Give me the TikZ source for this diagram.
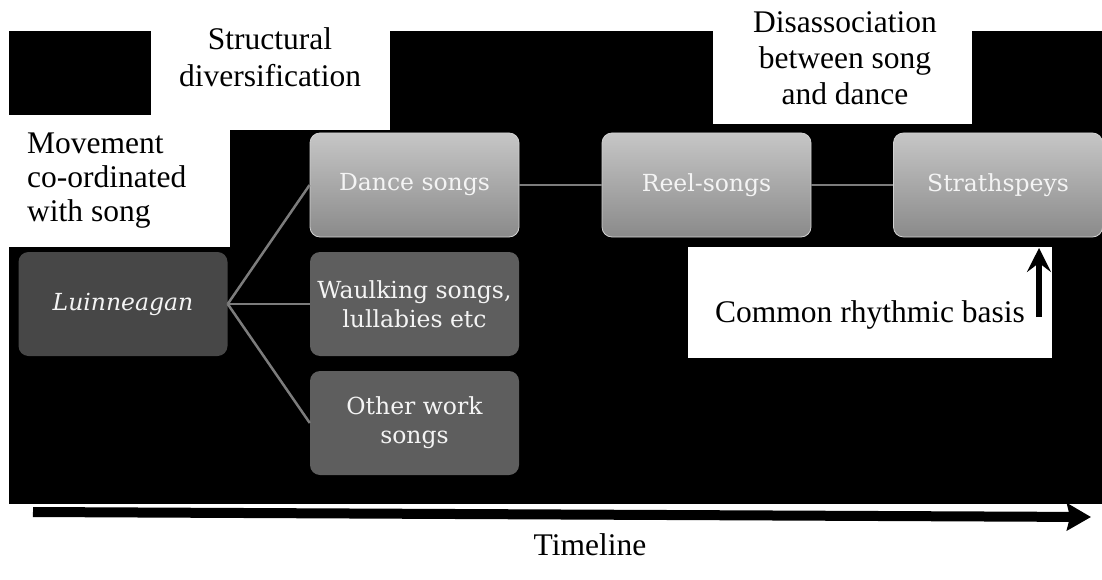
\documentclass[tikz,border=0pt]{standalone}
\usepackage{fontspec}
\setmainfont{Liberation Serif}
\newfontfamily\boxfont{DejaVu Serif}
\usetikzlibrary{arrows.meta}
\definecolor{topc}{HTML}{C6C6C6}
\definecolor{botc}{HTML}{8A8A8A}
\definecolor{darkbox}{HTML}{474747}
\definecolor{midbox}{HTML}{5E5E5E}
\definecolor{linkc}{HTML}{7C7C7C}
\definecolor{boxtext}{HTML}{F4F4F4}
\tikzset{
  songbox/.style={minimum width=209pt, minimum height=104pt, inner sep=0pt,
    rounded corners=10pt, align=center, text=boxtext,
    font=\boxfont\fontsize{23.5}{29}\selectfont},
  lightbox/.style={songbox, top color=topc, bottom color=botc, draw=topc!80!white, line width=0.8pt},
  midboxst/.style={songbox, fill=midbox},
  darkboxst/.style={songbox, fill=darkbox},
  link/.style={draw=linkc, line width=2.5pt},
  label/.style={inner sep=0pt, align=center, text=black,
    font=\fontsize{31.5}{36}\selectfont},
  whitepatch/.style={fill=white, draw=none}
}
\begin{document}
\begin{tikzpicture}[x=1pt, y=-1pt]
\useasboundingbox (0,0) rectangle (1102,580);
% background
\fill[black] (9,31) rectangle (1102,504);
\fill[whitepatch] (151,0) rectangle (390,130);
\fill[whitepatch] (0,115) rectangle (230,247);
\fill[whitepatch] (713,0) rectangle (972,124);
\fill[whitepatch] (688,247) rectangle (1052,358);

% boxes
\node[darkboxst] (lui) at (123,304) {\itshape Luinneagan};
\node[lightbox] (dance) at (414.5,185) {Dance songs};
\node[midboxst] (waulk) at (414.5,304) {Waulking songs,\\lullabies etc};
\node[midboxst] (other) at (414.5,423) {Other work\\songs};
\node[lightbox] (reel) at (706.5,185) {Reel-songs};
\node[lightbox] (strath) at (998,185) {Strathspeys};

% links
\draw[link] (lui.east) -- (dance.west);
\draw[link] (lui.east) -- (waulk.west);
\draw[link] (lui.east) -- (other.west);
\draw[link] (dance.east) -- (reel.west);
\draw[link] (reel.east) -- (strath.west);

% labels (base anchor = baseline of the last line)
\node[label, anchor=base, font=\fontsize{31.5}{37}\selectfont] (struct) at (270,87) {Structural\\diversification};
\node[label, anchor=base west, align=left, font=\fontsize{31.5}{34.5}\selectfont] (move) at (27,222) {Movement\\co-ordinated\\with song};
\node[label, anchor=base] (disas) at (845,105) {Disassociation\\between song\\and dance};
\node[label, anchor=base] (common) at (870,322) {Common rhythmic basis};
\node[label, anchor=base] (timeline) at (590,555) {Timeline};

% arrows
\coordinate (cbstart) at (1039,317);
\coordinate (cbtip) at (1039,248);
\draw[line width=5.5pt, -{Stealth[length=24pt,width=24pt,inset=9pt]}] (cbstart) -- (cbtip);
\coordinate (tlstart) at (33,512);
\coordinate (tlend) at (1091,517);
\draw[line width=10pt, -{Stealth[length=24pt,width=27pt,inset=3pt]}] (tlstart) -- (tlend);
\end{tikzpicture}
\end{document}
